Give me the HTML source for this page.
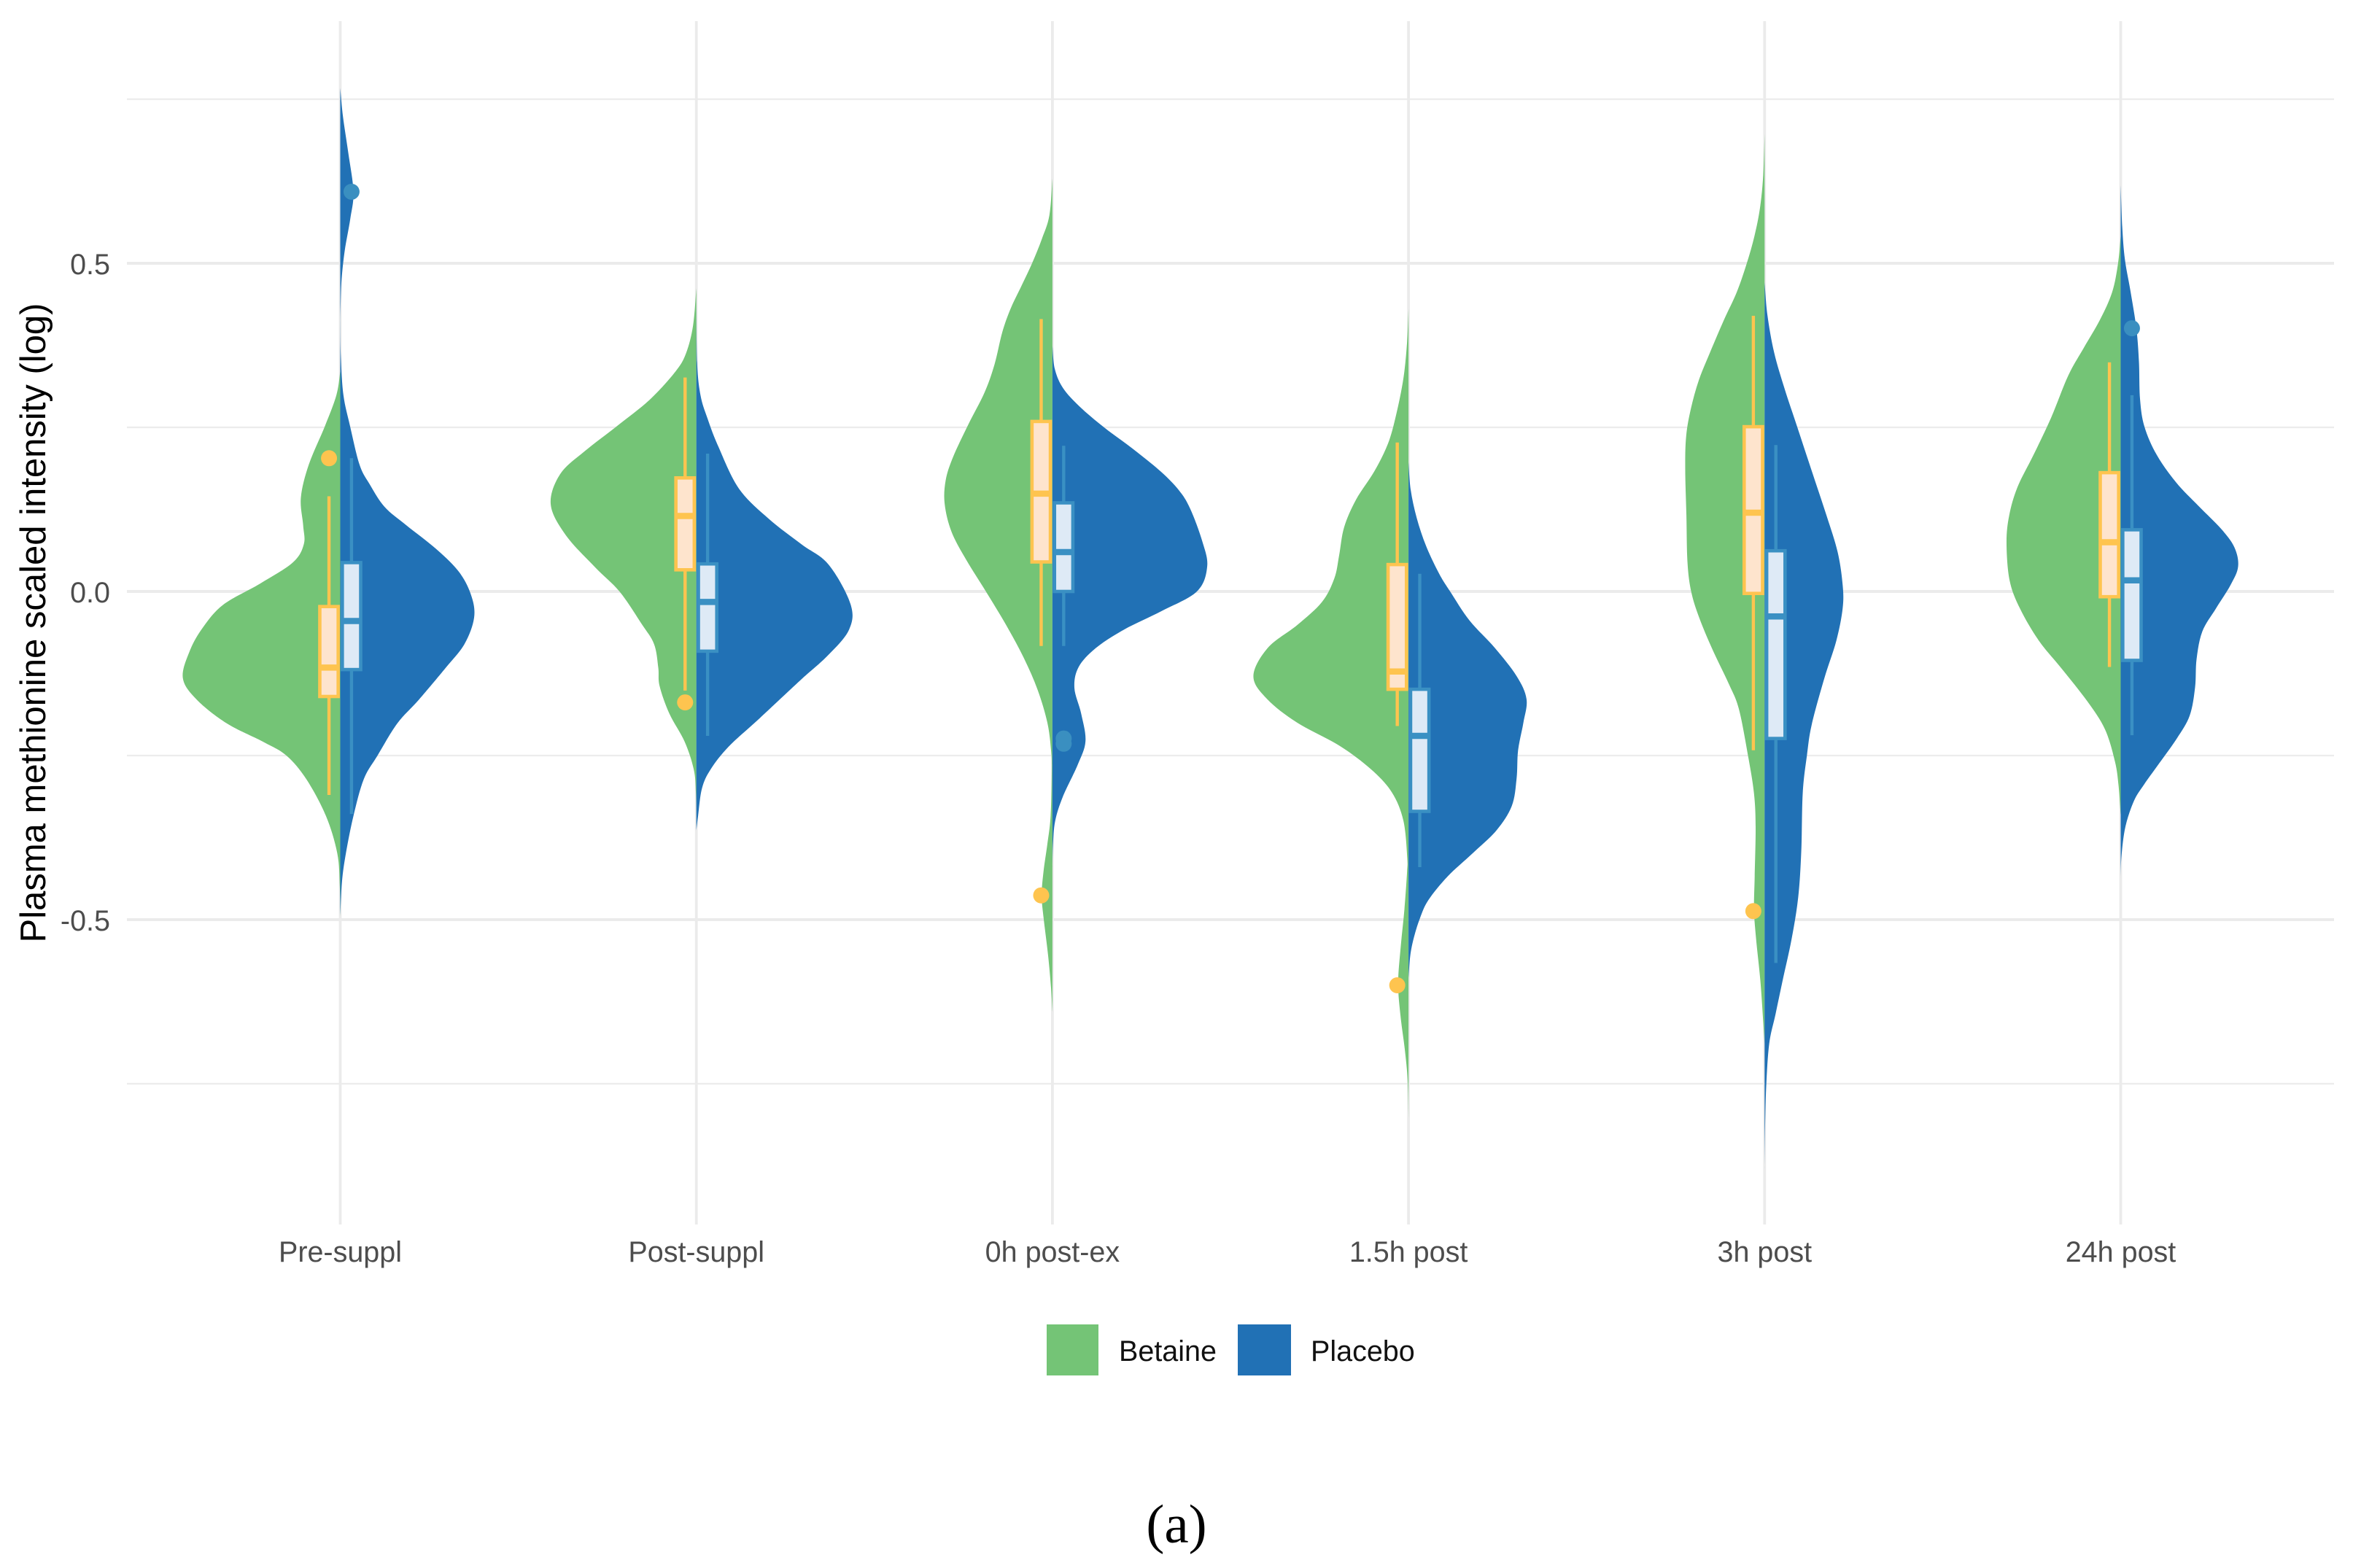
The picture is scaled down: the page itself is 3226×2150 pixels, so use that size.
<!DOCTYPE html>
<html lang="en">
<head>
<meta charset="utf-8">
<title>Plasma methionine split violin chart</title>
<style>
html,body{margin:0;padding:0;background:#fff;}
svg{display:block;}
text{font-family:"Liberation Sans",sans-serif;}
</style>
</head>
<body>
<svg id="chart" xmlns="http://www.w3.org/2000/svg" width="3226" height="2150" viewBox="0 0 3226 2150">
  <rect x="0" y="0" width="3226" height="2150" fill="#ffffff"/>
  <g id="grid"></g>
  <g id="violins"></g>
  <g id="boxes"></g>
  <g id="outliers"></g>
  <g id="yticks"></g>
  <g id="xticks"></g>
  <text transform="translate(62,854) rotate(-90)" text-anchor="middle" font-size="49" fill="#000000">Plasma methionine scaled intensity (log)</text>
  <g>
    <rect x="1435" y="1816" width="71" height="70" fill="#74c476"/>
    <text x="1534" y="1866" font-size="39.5" fill="#111111">Betaine</text>
    <rect x="1697" y="1816" width="73" height="70" fill="#2171b5"/>
    <text x="1797" y="1866" font-size="39.5" fill="#111111">Placebo</text>
  </g>
  <text x="1613" y="2115" text-anchor="middle" font-size="75" fill="#000000" style="font-family:'Liberation Serif',serif">(a)</text>
</svg>
<script>
const categories = ["Pre-suppl", "Post-suppl", "0h post-ex", "1.5h post", "3h post", "24h post"];
const majorTicks = [0.5, 0, -0.5];
const majorTickLabels = ["0.5", "0.0", "-0.5"];
const minorTicks = [0.75, 0.25, -0.25, -0.75];

const preBetaineValues = [.335,.299,.252,.193,.143,.101,.072,.044,.012,-.02,-.055,-.091,-.132,-.165,-.201,-.229,-.25,-.286,-.342,-.399,-.449,-.495];
const preBetaineDensity = [0,.007,.04,.093,.116,.103,.098,.122,.223,.338,.388,.424,.453,.409,.323,.208,.151,.096,.036,.004,.001,0];
const prePlaceboValues = [.767,.724,.668,.609,.568,.519,.476,.441,.405,.356,.299,.252,.193,.164,.129,.101,.065,.03,-.006,-.04,-.08,-.116,-.165,-.201,-.25,-.286,-.342,-.399,-.442,-.495];
const prePlaceboDensity = [0,.006,.022,.042,.029,.011,.003,.001,0,.001,.007,.026,.055,.079,.122,.18,.273,.338,.371,.382,.352,.302,.216,.161,.101,.065,.036,.014,.004,0];

const postBetaineValues = [.462,.405,.363,.335,.292,.252,.214,.179,.133,.086,.037,0,-.048,-.08,-.116,-.144,-.186,-.229,-.271,-.307,-.356];
const postBetaineDensity = [0,.007,.029,.05,.129,.223,.316,.388,.421,.374,.28,.216,.151,.115,.105,.108,.079,.029,.004,.001,0];
const postPlaceboValues = [.448,.349,.299,.264,.221,.157,.111,.072,.041,-.019,-.058,-.097,-.136,-.193,-.236,-.271,-.3,-.342,-.364];
const postPlaceboDensity = [0,.001,.01,.03,.057,.115,.201,.299,.371,.445,.438,.371,.299,.172,.086,.036,.014,.004,0];

const h0BetaineValues = [.629,.573,.537,.5,.466,.431,.395,.346,.303,.254,.204,.169,.133,.091,.048,0,-.051,-.101,-.15,-.2,-.242,-.271,-.342,-.385,-.427,-.463,-.498,-.555,-.605,-.64];
const h0BetaineDensity = [0,.006,.029,.057,.086,.119,.141,.162,.187,.237,.284,.302,.306,.287,.244,.187,.129,.079,.04,.011,.003,.001,.004,.014,.026,.032,.026,.011,.003,0];
const h0PlaceboValues = [.374,.339,.31,.282,.25,.218,.183,.154,.126,.077,.038,0,-.03,-.058,-.086,-.115,-.147,-.186,-.228,-.264,-.313,-.349,-.384,-.42];
const h0PlaceboDensity = [0,.004,.026,.072,.144,.223,.309,.359,.385,.424,.44,.42,.305,.197,.118,.068,.056,.082,.099,.075,.024,.006,.001,0];

const h15BetaineValues = [.431,.381,.325,.268,.225,.183,.14,.098,.055,.02,-.016,-.051,-.086,-.129,-.164,-.2,-.235,-.271,-.306,-.349,-.406,-.427,-.484,-.541,-.597,-.647,-.697,-.746,-.803];
const h15BetaineDensity = [0,.003,.012,.036,.055,.093,.151,.184,.195,.205,.237,.309,.402,.45,.402,.32,.187,.101,.043,.011,.002,.003,.011,.022,.032,.023,.01,.001,0];
const h15PlaceboValues = [.197,.155,.112,.069,.027,0,-.044,-.086,-.129,-.164,-.2,-.242,-.285,-.327,-.364,-.399,-.434,-.47,-.498,-.527,-.555,-.59];
const h15PlaceboDensity = [0,.004,.022,.047,.089,.112,.168,.244,.309,.338,.323,.305,.305,.295,.251,.18,.108,.05,.032,.014,.004,0];

const h3BetaineValues = [.697,.634,.584,.541,.5,.456,.414,.364,.322,.279,.237,.187,.116,.045,0,-.04,-.089,-.141,-.179,-.25,-.307,-.358,-.434,-.485,-.53,-.593,-.657,-.689];
const h3BetaineDensity = [0,.003,.012,.028,.049,.077,.113,.155,.186,.208,.222,.224,.219,.218,.208,.186,.148,.096,.073,.045,.028,.024,.028,.031,.025,.011,.003,0];
const h3PlaceboValues = [.471,.421,.364,.308,.251,.187,.116,.06,.01,-.026,-.075,-.132,-.203,-.25,-.307,-.396,-.466,-.53,-.593,-.644,-.689,-.753,-.816,-.88];
const h3PlaceboDensity = [0,.006,.025,.056,.091,.129,.176,.208,.221,.222,.204,.169,.127,.12,.105,.104,.096,.077,.049,.031,.011,.004,.001,0];

const h24BetaineValues = [.541,.5,.456,.414,.371,.329,.265,.208,.159,.116,.074,.017,-.026,-.075,-.118,-.167,-.21,-.259,-.295,-.34];
const h24BetaineDensity = [0,.006,.021,.056,.105,.146,.195,.245,.294,.315,.323,.315,.287,.231,.167,.09,.041,.013,.006,0];
const h24PlaceboValues = [.619,.556,.506,.456,.4,.35,.293,.251,.208,.166,.13,.095,.067,.038,.01,-.026,-.061,-.103,-.146,-.189,-.224,-.266,-.294,-.319,-.358,-.402,-.437];
const h24PlaceboDensity = [0,.004,.01,.028,.046,.052,.053,.063,.098,.155,.218,.288,.323,.335,.312,.267,.225,.211,.211,.197,.162,.098,.065,.037,.011,.001,0];

const betaineQ3 = [-.023,.173,.259,.041,.251,.181];
const betaineMedian = [-.116,.115,.149,-.122,.12,.075];
const betaineQ1 = [-.16,.033,.045,-.149,-.003,-.008];
const betaineWhiskerHigh = [.145,.326,.415,.227,.42,.349];
const betaineWhiskerLow = [-.31,-.151,-.083,-.205,-.242,-.115];
const placeboQ3 = [.044,.042,.135,-.149,.062,.094];
const placeboMedian = [-.045,-.016,.06,-.22,-.038,.017];
const placeboQ1 = [-.119,-.091,0,-.335,-.224,-.105];
const placeboWhiskerHigh = [.203,.21,.222,.027,.223,.299];
const placeboWhiskerLow = [-.339,-.22,-.083,-.42,-.566,-.219];

const betaineOutlierCategory = [0,1,2,3,4];
const betaineOutlierValue = [.203,-.169,-.463,-.6,-.487];
const placeboOutlierCategory = [0,2,2,5];
const placeboOutlierValue = [.609,-.224,-.232,.401];

const betaineViolinValues = [preBetaineValues, postBetaineValues, h0BetaineValues, h15BetaineValues, h3BetaineValues, h24BetaineValues];
const betaineViolinDensity = [preBetaineDensity, postBetaineDensity, h0BetaineDensity, h15BetaineDensity, h3BetaineDensity, h24BetaineDensity];
const placeboViolinValues = [prePlaceboValues, postPlaceboValues, h0PlaceboValues, h15PlaceboValues, h3PlaceboValues, h24PlaceboValues];
const placeboViolinDensity = [prePlaceboDensity, postPlaceboDensity, h0PlaceboDensity, h15PlaceboDensity, h3PlaceboDensity, h24PlaceboDensity];

const SVGNS = "http://www.w3.org/2000/svg";
function xScale(c) { return 466.5 + 488.2 * c; }
function yScale(v) { return 811 - 900 * v; }
function node(parent, tag) {
  const el = document.createElementNS(SVGNS, tag);
  parent.appendChild(el);
  return el;
}
function soften(d) {
  return d.map(function (v, k) {
    if (k === 0 || k === d.length - 1) return v;
    return 0.15 * d[k - 1] + 0.7 * v + 0.15 * d[k + 1];
  });
}
function smoothPath(pts) {
  let d = "M" + pts[0][0].toFixed(2) + " " + pts[0][1].toFixed(2);
  for (let i = 0; i < pts.length - 1; i++) {
    const p0 = pts[Math.max(i - 1, 0)], p1 = pts[i], p2 = pts[i + 1], p3 = pts[Math.min(i + 2, pts.length - 1)];
    const c1x = p1[0] + (p2[0] - p0[0]) / 6, c1y = p1[1] + (p2[1] - p0[1]) / 6;
    const c2x = p2[0] - (p3[0] - p1[0]) / 6, c2y = p2[1] - (p3[1] - p1[1]) / 6;
    d += "C" + c1x.toFixed(2) + " " + c1y.toFixed(2) + " " + c2x.toFixed(2) + " " + c2y.toFixed(2) + " " + p2[0].toFixed(2) + " " + p2[1].toFixed(2);
  }
  return d + "Z";
}

const gridG = document.getElementById("grid");
minorTicks.forEach(function (t) {
  const l = node(gridG, "line");
  
  
  l.setAttribute("x1", 174); l.setAttribute("x2", 3200);
  l.setAttribute("y1", yScale(t)); l.setAttribute("y2", yScale(t));
  l.setAttribute("stroke", "#ececec"); l.setAttribute("stroke-width", 2.2);
});
majorTicks.forEach(function (t) {
  const l = node(gridG, "line");
  
  
  l.setAttribute("x1", 174); l.setAttribute("x2", 3200);
  l.setAttribute("y1", yScale(t)); l.setAttribute("y2", yScale(t));
  l.setAttribute("stroke", "#ebebeb"); l.setAttribute("stroke-width", 4);
});
categories.forEach(function (c, i) {
  const l = node(gridG, "line");
  
  
  l.setAttribute("x1", xScale(i)); l.setAttribute("x2", xScale(i));
  l.setAttribute("y1", 29); l.setAttribute("y2", 1679);
  l.setAttribute("stroke", "#ebebeb"); l.setAttribute("stroke-width", 3.8);
});

const violinG = document.getElementById("violins");
categories.forEach(function (c, i) {
  const bDensity = soften(betaineViolinDensity[i]);
  const bPts = betaineViolinValues[i].map(function (v, k) { return [xScale(i - bDensity[k]), yScale(v)]; });
  const b = node(violinG, "path");
  
  
  b.setAttribute("d", smoothPath(bPts));
  b.setAttribute("fill", "#74c476");
  const pDensity = soften(placeboViolinDensity[i]);
  const pPts = placeboViolinValues[i].map(function (v, k) { return [xScale(i + pDensity[k]), yScale(v)]; });
  const p = node(violinG, "path");
  
  
  p.setAttribute("d", smoothPath(pPts));
  p.setAttribute("fill", "#2171b5");
});

const boxOffset = 0.0316;
const boxHalf = 0.0258;
function drawBox(parent, i, side, q3, med, q1, hi, lo, stroke, fill, label) {
  const cx = i + side * boxOffset;
  const w1 = node(parent, "line");
  
  
  w1.setAttribute("x1", xScale(cx)); w1.setAttribute("x2", xScale(cx));
  w1.setAttribute("y1", yScale(hi)); w1.setAttribute("y2", yScale(q3));
  w1.setAttribute("stroke", stroke); w1.setAttribute("stroke-width", 4.4);
  const w2 = node(parent, "line");
  
  
  w2.setAttribute("x1", xScale(cx)); w2.setAttribute("x2", xScale(cx));
  w2.setAttribute("y1", yScale(q1)); w2.setAttribute("y2", yScale(lo));
  w2.setAttribute("stroke", stroke); w2.setAttribute("stroke-width", 4.4);
  const r = node(parent, "rect");
  
  
  r.setAttribute("x", xScale(cx - boxHalf));
  r.setAttribute("width", xScale(cx + boxHalf) - xScale(cx - boxHalf));
  r.setAttribute("y", yScale(q3));
  r.setAttribute("height", yScale(q1) - yScale(q3));
  r.setAttribute("fill", fill); r.setAttribute("stroke", stroke); r.setAttribute("stroke-width", 4.6);
  const m = node(parent, "line");
  
  
  m.setAttribute("x1", xScale(cx - boxHalf)); m.setAttribute("x2", xScale(cx + boxHalf));
  m.setAttribute("y1", yScale(med)); m.setAttribute("y2", yScale(med));
  m.setAttribute("stroke", stroke); m.setAttribute("stroke-width", 8.5);
}
const boxG = document.getElementById("boxes");
categories.forEach(function (c, i) {
  drawBox(boxG, i, -1, betaineQ3[i], betaineMedian[i], betaineQ1[i], betaineWhiskerHigh[i], betaineWhiskerLow[i], "#fec44f", "#fee4cd", "betaine");
  drawBox(boxG, i, 1, placeboQ3[i], placeboMedian[i], placeboQ1[i], placeboWhiskerHigh[i], placeboWhiskerLow[i], "#3a90c3", "#deeaf6", "placebo");
});

const outlierG = document.getElementById("outliers");
betaineOutlierValue.forEach(function (v, k) {
  const o = node(outlierG, "circle");
  
  
  o.setAttribute("cx", xScale(betaineOutlierCategory[k] - boxOffset));
  o.setAttribute("cy", yScale(v));
  o.setAttribute("r", 11);
  o.setAttribute("fill", "#fec44f");
});
placeboOutlierValue.forEach(function (v, k) {
  const o = node(outlierG, "circle");
  
  
  o.setAttribute("cx", xScale(placeboOutlierCategory[k] + boxOffset));
  o.setAttribute("cy", yScale(v));
  o.setAttribute("r", 11);
  o.setAttribute("fill", "#3a8fc0");
});

const yTickG = document.getElementById("yticks");
majorTicks.forEach(function (t, k) {
  const tx = node(yTickG, "text");
  
  
  tx.setAttribute("x", 151);
  tx.setAttribute("y", yScale(t) + 15);
  tx.setAttribute("text-anchor", "end");
  tx.setAttribute("font-size", 39.5);
  tx.setAttribute("fill", "#4d4d4d");
  tx.textContent = majorTickLabels[k];
});
const xTickG = document.getElementById("xticks");
categories.forEach(function (c, i) {
  const tx = node(xTickG, "text");
  
  
  tx.setAttribute("x", xScale(i));
  tx.setAttribute("y", 1730);
  tx.setAttribute("text-anchor", "middle");
  tx.setAttribute("font-size", 39.5);
  tx.setAttribute("fill", "#4d4d4d");
  tx.textContent = c;
});
</script>
</body>
</html>
